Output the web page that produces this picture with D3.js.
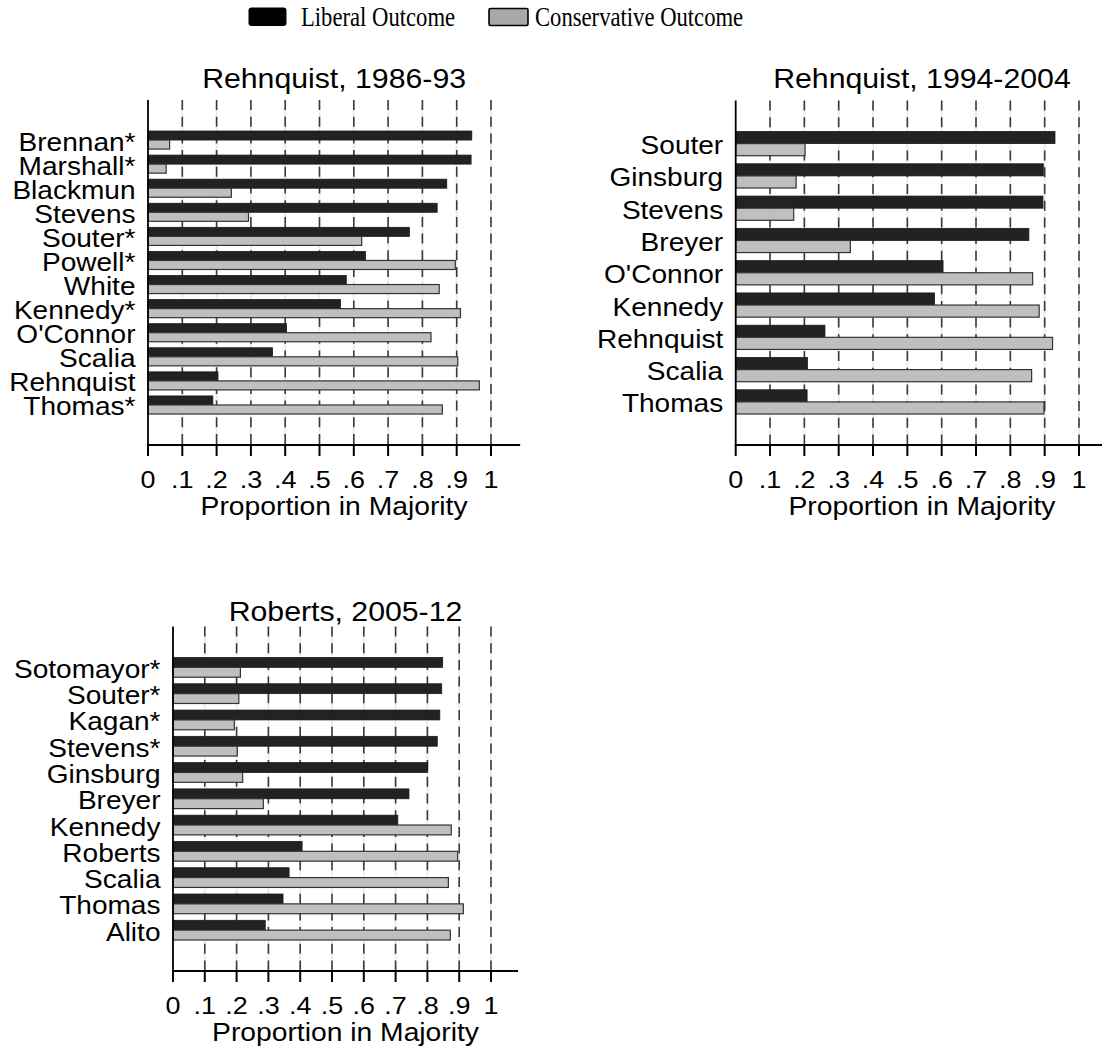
<!DOCTYPE html>
<html>
<head>
<meta charset="utf-8">
<script src="https://cdn.jsdelivr.net/npm/d3@7"></script>
<style>
  body { margin: 0; background: #fff; }
  svg { display: block; }
</style>
</head>
<body>
<svg id="chart" width="1102" height="1049"></svg>
<script>
// --- Data ---
const titles = ["Rehnquist, 1986-93", "Rehnquist, 1994-2004", "Roberts, 2005-12"];

const justices1 = ["Brennan*", "Marshall*", "Blackmun", "Stevens", "Souter*", "Powell*",
  "White", "Kennedy*", "O'Connor", "Scalia", "Rehnquist", "Thomas*"];
const liberal1 = [0.944, 0.942, 0.871, 0.843, 0.762, 0.634, 0.578, 0.561, 0.404, 0.363, 0.204, 0.189];
const conservative1 = [0.063, 0.053, 0.243, 0.293, 0.623, 0.896, 0.849, 0.911, 0.825, 0.903, 0.966, 0.858];

const justices2 = ["Souter", "Ginsburg", "Stevens", "Breyer", "O'Connor", "Kennedy",
  "Rehnquist", "Scalia", "Thomas"];
const liberal2 = [0.930, 0.896, 0.895, 0.854, 0.604, 0.579, 0.260, 0.209, 0.208];
const conservative2 = [0.202, 0.176, 0.169, 0.334, 0.865, 0.884, 0.923, 0.862, 0.898];

const justices3 = ["Sotomayor*", "Souter*", "Kagan*", "Stevens*", "Ginsburg", "Breyer",
  "Kennedy", "Roberts", "Scalia", "Thomas", "Alito"];
const liberal3 = [0.848, 0.845, 0.839, 0.831, 0.801, 0.742, 0.707, 0.406, 0.365, 0.346, 0.290];
const conservative3 = [0.212, 0.207, 0.193, 0.202, 0.219, 0.284, 0.875, 0.895, 0.866, 0.913, 0.872];

const tickValues = [0, 0.1, 0.2, 0.3, 0.4, 0.5, 0.6, 0.7, 0.8, 0.9, 1];
const tickLabels = ["0", ".1", ".2", ".3", ".4", ".5", ".6", ".7", ".8", ".9", "1"];
const legendLabels = ["Liberal Outcome", "Conservative Outcome"];

// --- Styles ---
const SANS = "'Liberation Sans', Arial, Helvetica, sans-serif";
const SERIF = "'Liberation Serif', 'Times New Roman', serif";
const STRETCH = 1.1; // text in the original is a little wider than Arial
const LIB_FILL = "#222";
const CON_FILL = "#bfbfbf";
const X_MAX = 1.085;

const svg = d3.select("#chart");

// stretched text helper
function stext(parent, x, y, str, size, anchor, sx, family) {
  parent.append("g")
    .attr("transform", `translate(${x},${y}) scale(${sx},1)`)
    .append("text")
    .attr("text-anchor", anchor)
    .attr("font-family", family || SANS)
    .attr("font-size", size)
    .attr("fill", "#000")
    .text(str);
}

// --- Legend ---
const legend = svg.append("g");
legend.append("rect")
  .attr("x", 248.5).attr("y", 7.5).attr("width", 38).attr("height", 18.5)
  .attr("rx", 3).attr("fill", "#000");
stext(legend, 301, 26, legendLabels[0], 26.5, "start", 0.855, SERIF);
legend.append("rect")
  .attr("x", 489).attr("y", 8.5).attr("width", 39).attr("height", 17)
  .attr("rx", 1.5).attr("fill", "#a8a8a8").attr("stroke", "#000").attr("stroke-width", 1.6);
stext(legend, 535, 26, legendLabels[1], 26.5, "start", 0.855, SERIF);

// --- Panels ---
function drawPanel(p, title, names, lib, con) {
  const g = svg.append("g");

  const x = d3.scaleLinear().domain([0, 1]).range([p.x0, p.x1]);
  const right = x(X_MAX);

  const y = d3.scaleBand()
    .domain(names)
    .range([p.top + 31, p.bottom - 31])
    .paddingInner(0.25);
  const sub = d3.scaleBand().domain(["lib", "con"]).range([0, y.bandwidth()]);

  // grid lines
  const grid = g.append("g");
  tickValues.slice(1).forEach((t) => {
    grid.append("line")
      .attr("x1", x(t)).attr("x2", x(t))
      .attr("y1", p.top).attr("y2", p.bottom)
      .attr("stroke", "#e6eff1").attr("stroke-width", 2);
    grid.append("line")
      .attr("x1", x(t)).attr("x2", x(t))
      .attr("y1", p.top).attr("y2", p.bottom)
      .attr("stroke", "#3a3a3a").attr("stroke-width", 1.6)
      .attr("stroke-dasharray", "10,6.7");
  });

  // bars
  const rows = names.map((n, i) => ({ name: n, lib: lib[i], con: con[i] }));
  g.append("g").selectAll("rect")
    .data(rows)
    .join("rect")
    .attr("x", x(0))
    .attr("y", (d) => y(d.name) + sub("lib"))
    .attr("width", (d) => x(d.lib) - x(0))
    .attr("height", sub.bandwidth())
    .attr("fill", LIB_FILL)
    .attr("stroke", "#1a1a1a")
    .attr("stroke-width", 0.8);
  g.append("g").selectAll("rect")
    .data(rows)
    .join("rect")
    .attr("x", x(0))
    .attr("y", (d) => y(d.name) + sub("con"))
    .attr("width", (d) => x(d.con) - x(0))
    .attr("height", sub.bandwidth())
    .attr("fill", CON_FILL)
    .attr("stroke", "#333")
    .attr("stroke-width", 1.2);

  // axes
  g.append("line")
    .attr("x1", x(0)).attr("x2", x(0))
    .attr("y1", p.top).attr("y2", p.bottom)
    .attr("stroke", "#000").attr("stroke-width", 1.8);
  g.append("line")
    .attr("x1", x(0) - 0.9).attr("x2", right)
    .attr("y1", p.bottom).attr("y2", p.bottom)
    .attr("stroke", "#000").attr("stroke-width", 1.8);
  tickValues.forEach((t, i) => {
    g.append("line")
      .attr("x1", x(t)).attr("x2", x(t))
      .attr("y1", p.bottom).attr("y2", p.bottom + 11)
      .attr("stroke", "#000").attr("stroke-width", 2);
    stext(g, x(t), p.bottom + 43, tickLabels[i], 24.5, "middle", STRETCH);
  });

  // category labels
  names.forEach((n) => {
    stext(g, x(0) - 12.5, y(n) + y.bandwidth() / 2 + 10.5, n, 25.5, "end", STRETCH);
  });

  // titles
  const cx = (x(0) + right) / 2;
  stext(g, cx, p.bottom + 70, "Proportion in Majority", 25.7, "middle", STRETCH);
  stext(g, cx, p.titleY, title, 27.5, "middle", STRETCH);
}

drawPanel({ x0: 148, x1: 491, top: 100, bottom: 445, titleY: 88 },
  titles[0], justices1, liberal1, conservative1);
drawPanel({ x0: 735.7, x1: 1079, top: 100.5, bottom: 445, titleY: 88 },
  titles[1], justices2, liberal2, conservative2);
drawPanel({ x0: 173, x1: 491, top: 626.5, bottom: 971, titleY: 621 },
  titles[2], justices3, liberal3, conservative3);
</script>
</body>
</html>
